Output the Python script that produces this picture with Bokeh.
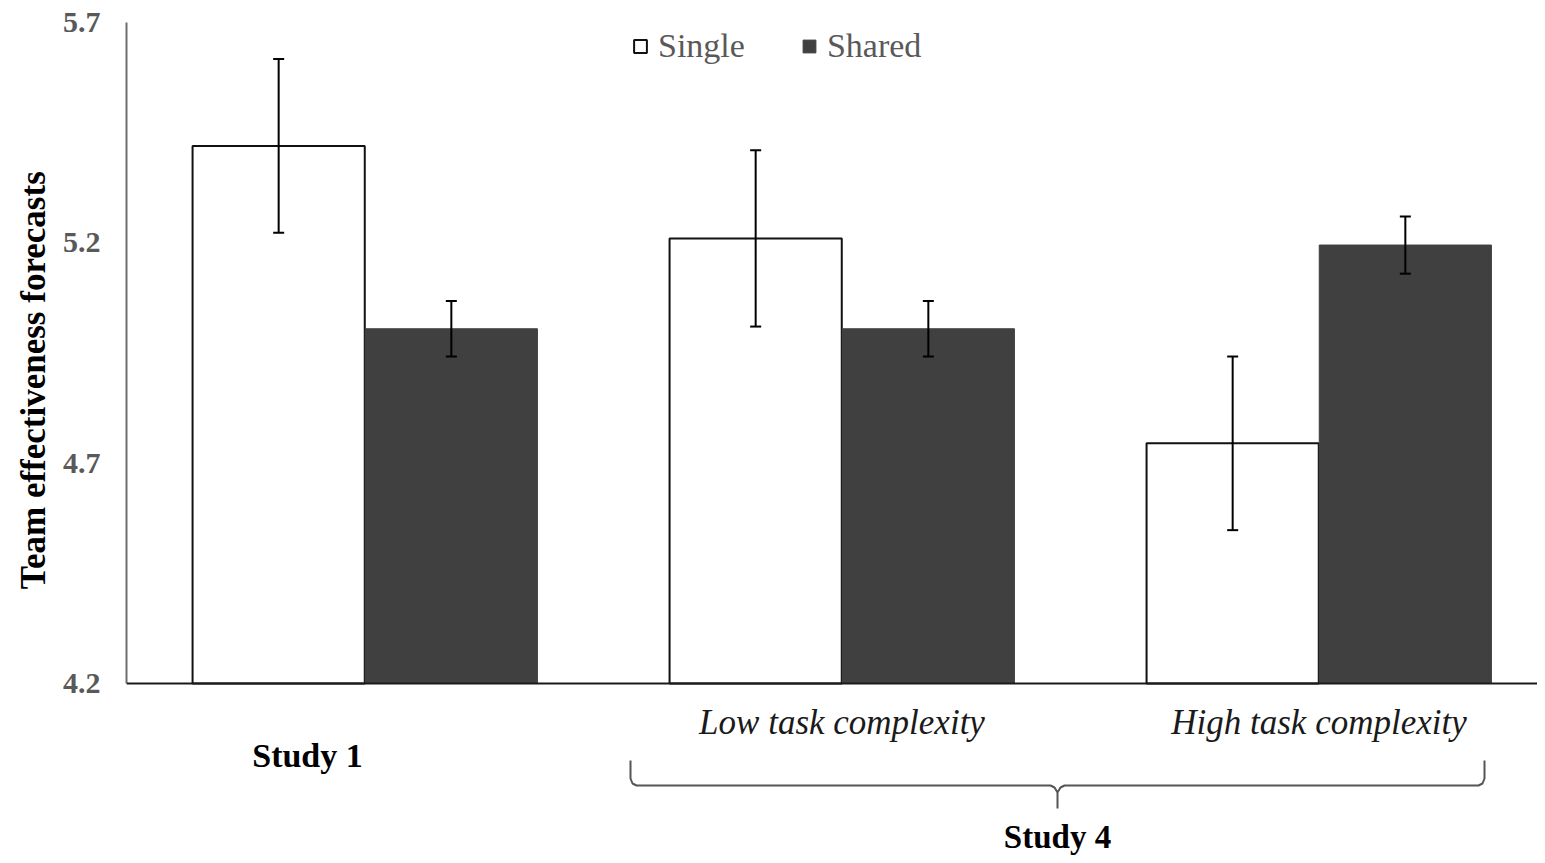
from bokeh.plotting import figure
from bokeh.models import (ColumnDataSource, Range1d, FixedTicker, Span, Title,
                          Legend, LegendItem, Whisker, TeeHead)
from bokeh.core.properties import value
from bokeh.embed import file_html
from bokeh.resources import INLINE

# ---------------- data ----------------
groups = ["Study 1", "Low task complexity", "High task complexity"]
single = [5.42, 5.21, 4.745]
single_err = [0.197, 0.200, 0.197]
shared = [5.005, 5.005, 5.195]
shared_err = [0.063, 0.063, 0.065]
y_ticks = [4.2, 4.7, 5.2, 5.7]
Y_MIN, Y_MAX = 4.2, 5.7

FONT = "Liberation Serif"

# ---------------- layout helpers (pixel -> data, for decorations) ----------------
LEFT, TOP, BASE = 126, 22, 683
PX_PER_X = 477.0
PX_PER_Y = (BASE - TOP) / (Y_MAX - Y_MIN)
def xd(px):
    return -0.5 + (px - LEFT) / PX_PER_X
def yd(py):
    return Y_MAX - (py - TOP) / PX_PER_Y

W, H = 1537, 855
p = figure(width=W, height=H, output_backend="svg", toolbar_location=None,
           x_range=Range1d(-0.5, xd(W)), y_range=Range1d(yd(H), Y_MAX),
           x_axis_location=None, min_border_left=LEFT, min_border_right=0,
           min_border_top=TOP, min_border_bottom=0)
p.outline_line_color = None
p.grid.visible = False
p.background_fill_color = "white"
p.border_fill_color = "white"

# y axis
ya = p.yaxis[0]
ya.bounds = (Y_MIN, Y_MAX)
ya.ticker = FixedTicker(ticks=y_ticks)
ya.major_tick_line_color = None
ya.minor_tick_line_color = None
ya.major_tick_out = 0
ya.major_tick_in = 0
ya.major_label_standoff = 26
ya.axis_line_color = "#6e6e6e"
ya.axis_line_width = 2
ya.major_label_text_font = FONT
ya.major_label_text_font_style = "bold"
ya.major_label_text_font_size = "30px"
ya.major_label_text_color = "#595959"

# y-axis title
p.add_layout(Title(text="Team  effectiveness forecasts", align="right", offset=140,
                   text_font=FONT, text_font_style="bold", text_font_size="35px",
                   text_color="black", standoff=14), "left")

# x baseline
p.add_layout(Span(location=Y_MIN, dimension="width", line_color="#1a1a1a", line_width=2))

# bars
off = 0.181
bw = 0.361
xs = list(range(len(groups)))
src_single = ColumnDataSource(dict(
    x=[i - off for i in xs], top=single,
    upper=[v + e for v, e in zip(single, single_err)],
    lower=[v - e for v, e in zip(single, single_err)]))
src_shared = ColumnDataSource(dict(
    x=[i + off for i in xs], top=shared,
    upper=[v + e for v, e in zip(shared, shared_err)],
    lower=[v - e for v, e in zip(shared, shared_err)]))

r_single = p.vbar(x="x", top="top", bottom=Y_MIN, width=bw, source=src_single,
                  fill_color="white", line_color="#111111", line_width=2)
r_shared = p.vbar(x="x", top="top", bottom=Y_MIN, width=bw, source=src_shared,
                  fill_color="#404040", line_color="#404040", line_width=1)

for src in (src_single, src_shared):
    p.add_layout(Whisker(source=src, base="x", upper="upper", lower="lower",
                         line_color="black", line_width=2, level="overlay",
                         upper_head=TeeHead(size=11, line_color="black", line_width=2),
                         lower_head=TeeHead(size=11, line_color="black", line_width=2)))

# legend
legend = Legend(items=[LegendItem(label="Single", renderers=[r_single]),
                       LegendItem(label="Shared", renderers=[r_shared])],
                orientation="horizontal", location=(632 - LEFT, 790),
                glyph_width=16, glyph_height=16, label_standoff=10, spacing=56,
                padding=0, margin=0, border_line_color=None,
                background_fill_alpha=0,
                label_text_font=FONT, label_text_font_size="34px",
                label_text_color="#595959")
p.add_layout(legend)

# category labels
p.text(x=[xd(307)], y=[yd(755)], text=[groups[0]],
       text_font=value(FONT), text_font_style="bold", text_font_size="34px",
       text_align="center", text_baseline="middle", text_color="black")
p.text(x=[1, 2], y=[yd(722), yd(722)], text=groups[1:],
       text_font=value(FONT), text_font_style="italic", text_font_size="35px",
       text_align="center", text_baseline="middle", text_color="#1a1a1a")
p.text(x=[xd(1057)], y=[yd(836)], text=["Study 4"],
       text_font=value(FONT), text_font_style="bold", text_font_size="33px",
       text_align="center", text_baseline="middle", text_color="black")

# brace under Study 4
bx = [630, 630, 632, 636, 1050, 1054, 1057, 1057, 1057, 1060, 1064, 1478, 1482, 1484, 1484]
by = [760, 778, 783, 785, 785, 787, 792, 808, 792, 787, 785, 785, 783, 778, 760]
p.line(x=[xd(v) for v in bx], y=[yd(v) for v in by], line_color="#555555", line_width=2)

open("out.html", "w").write(file_html(p, INLINE))
